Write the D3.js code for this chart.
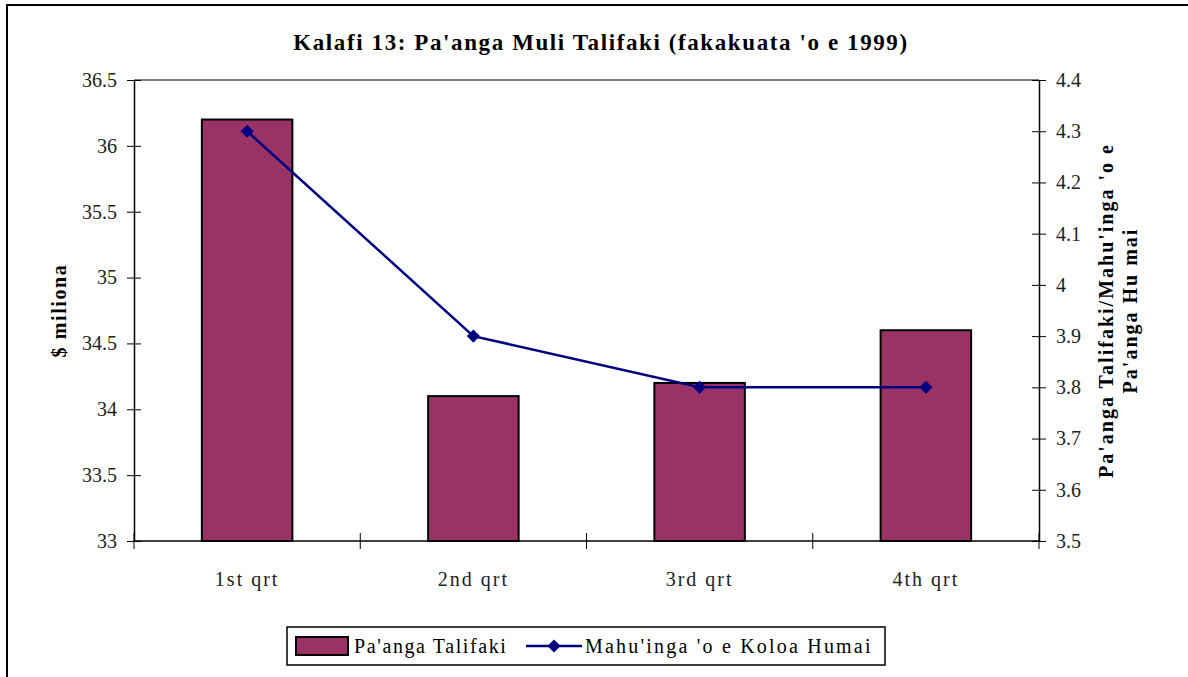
<!DOCTYPE html>
<html>
<head>
<meta charset="utf-8">
<style>
  body { margin: 0; background: #fff; }
  svg { font-family: "Liberation Serif", "DejaVu Serif", serif; }
</style>
</head>
<body>
<svg width="1188" height="677"></svg>
<script src="https://d3js.org/d3.v7.min.js"></script>
<script>

// Pa'anga Talifaki (bars, left axis) and Mahu'inga 'o e Koloa Humai (line, right axis)

var quarters = ["1st qrt", "2nd qrt", "3rd qrt", "4th qrt"];
var talifaki = [36.2, 34.1, 34.2, 34.6];
var mahuinga = [4.3, 3.9, 3.8, 3.8];
var leftTicks = [33, 33.5, 34, 34.5, 35, 35.5, 36, 36.5];
var rightTicks = [3.5, 3.6, 3.7, 3.8, 3.9, 4, 4.1, 4.2, 4.3, 4.4];

var serif = "'Liberation Serif', 'DejaVu Serif', serif";

var svg = d3.select("svg"),
    margin = {top: 80, right: 149, bottom: 136, left: 134},
    width = +svg.attr("width") - margin.left - margin.right,
    height = +svg.attr("height") - margin.top - margin.bottom;

// outer frame (only left/top edges visible in the picture)
svg.append("rect")
    .attr("x", 7).attr("y", 5)
    .attr("width", 1300).attr("height", 800)
    .attr("fill", "none")
    .attr("stroke", "#000")
    .attr("stroke-width", 2);

var g = svg.append("g").attr("transform", "translate(" + margin.left + "," + margin.top + ")");

var x = d3.scaleBand().domain(quarters).range([0, width]).paddingInner(0.6).paddingOuter(0.3);
var xb = d3.scaleLinear().domain([0, quarters.length]).range([0, width]);
var y = d3.scaleLinear().domain([33, 36.5]).range([height, 0]);
var y2 = d3.scaleLinear().domain([3.5, 4.4]).range([height, 0]);

// top border of plot area
g.append("line")
    .attr("x1", 0).attr("x2", width)
    .attr("y1", 0).attr("y2", 0)
    .attr("stroke", "#808080").attr("stroke-width", 2);

// bars
g.selectAll(".bar")
    .data(talifaki)
  .enter().append("rect")
    .attr("x", function(d, i) { return x(quarters[i]); })
    .attr("y", function(d) { return y(d); })
    .attr("width", x.bandwidth())
    .attr("height", function(d) { return height - y(d); })
    .attr("fill", "#993366")
    .attr("stroke", "#000")
    .attr("stroke-width", 2);

// left axis
var la = g.append("g")
    .attr("font-family", serif)
    .call(d3.axisLeft(y).tickValues(leftTicks).tickSize(7).tickSizeOuter(0).tickFormat(d3.format("")));
la.attr("font-family", serif);
la.selectAll(".tick line").attr("x2", 7).attr("x1", -7);
la.select(".domain").attr("stroke-width", 1.5);
la.selectAll("text").attr("x", -17).attr("font-size", 20).attr("fill", "#222");

// right axis
var ra = g.append("g")
    .attr("transform", "translate(" + width + ",0)")
    .call(d3.axisRight(y2).tickValues(rightTicks).tickSize(7).tickSizeOuter(0).tickFormat(d3.format("")));
ra.attr("font-family", serif);
ra.selectAll(".tick line").attr("x1", -7).attr("x2", 7);
ra.select(".domain").attr("stroke-width", 1.5);
ra.selectAll("text").attr("x", 17).attr("font-size", 20).attr("fill", "#222");

// bottom axis
var ba = g.append("g").attr("transform", "translate(0," + height + ")");
ba.append("line").attr("x1", 0).attr("x2", width).attr("stroke", "#000").attr("stroke-width", 1.5);
ba.selectAll(".btick")
    .data(d3.range(quarters.length + 1))
  .enter().append("line")
    .attr("x1", function(d) { return xb(d); })
    .attr("x2", function(d) { return xb(d); })
    .attr("y1", -8).attr("y2", 8)
    .attr("stroke", "#000").attr("stroke-width", 1);
ba.selectAll(".blabel")
    .data(quarters)
  .enter().append("text")
    .attr("x", function(d) { return x(d) + x.bandwidth() / 2; })
    .attr("y", 45)
    .attr("text-anchor", "middle")
    .attr("font-size", 20)
    .attr("letter-spacing", 2)
    .attr("fill", "#222")
    .text(function(d) { return d; });

// line series
var line = d3.line()
    .x(function(d, i) { return x(quarters[i]) + x.bandwidth() / 2; })
    .y(function(d) { return y2(d); });

g.append("path")
    .datum(mahuinga)
    .attr("fill", "none")
    .attr("stroke", "#000080")
    .attr("stroke-width", 2.5)
    .attr("d", line);

g.selectAll(".pt")
    .data(mahuinga)
  .enter().append("path")
    .attr("d", d3.symbol().type(d3.symbolDiamond2).size(110))
    .attr("transform", function(d, i) {
      return "translate(" + (x(quarters[i]) + x.bandwidth() / 2) + "," + y2(d) + ")";
    })
    .attr("fill", "#000080");

// title
svg.append("text")
    .attr("x", 601).attr("y", 50)
    .attr("text-anchor", "middle")
    .attr("font-size", 23)
    .attr("font-weight", "bold")
    .attr("letter-spacing", 1.6)
    .text("Kalafi 13: Pa'anga Muli Talifaki (fakakuata 'o e 1999)");

// axis titles
svg.append("text")
    .attr("transform", "translate(66," + (margin.top + height / 2) + ") rotate(-90)")
    .attr("text-anchor", "middle")
    .attr("font-size", 20)
    .attr("font-weight", "bold")
    .attr("letter-spacing", 1.6)
    .text("$ miliona");

var rt = svg.append("text")
    .attr("transform", "translate(1113," + (margin.top + height / 2) + ") rotate(-90)")
    .attr("text-anchor", "middle")
    .attr("font-size", 20)
    .attr("font-weight", "bold")
    .attr("letter-spacing", 2);
rt.append("tspan").attr("x", 0).attr("dy", 0).text("Pa'anga Talifaki/Mahu'inga 'o e");
rt.append("tspan").attr("x", 0).attr("dy", 24).text("Pa'anga Hu mai");

// legend
var lg = svg.append("g").attr("transform", "translate(287,627)");
lg.append("rect")
    .attr("width", 598).attr("height", 38)
    .attr("fill", "#fff").attr("stroke", "#000").attr("stroke-width", 1.5);
lg.append("rect")
    .attr("x", 9).attr("y", 10).attr("width", 52).attr("height", 18)
    .attr("fill", "#993366").attr("stroke", "#000").attr("stroke-width", 2);
lg.append("text")
    .attr("x", 67).attr("y", 26)
    .attr("font-size", 20)
    .attr("letter-spacing", 1.6)
    .text("Pa'anga Talifaki");
lg.append("line")
    .attr("x1", 239).attr("x2", 295).attr("y1", 19).attr("y2", 19)
    .attr("stroke", "#000080").attr("stroke-width", 2.5);
lg.append("path")
    .attr("d", d3.symbol().type(d3.symbolDiamond2).size(110))
    .attr("transform", "translate(267,19)")
    .attr("fill", "#000080");
lg.append("text")
    .attr("x", 298).attr("y", 26)
    .attr("font-size", 20)
    .attr("letter-spacing", 2.2)
    .text("Mahu'inga 'o e Koloa Humai");

</script>
</body>
</html>
